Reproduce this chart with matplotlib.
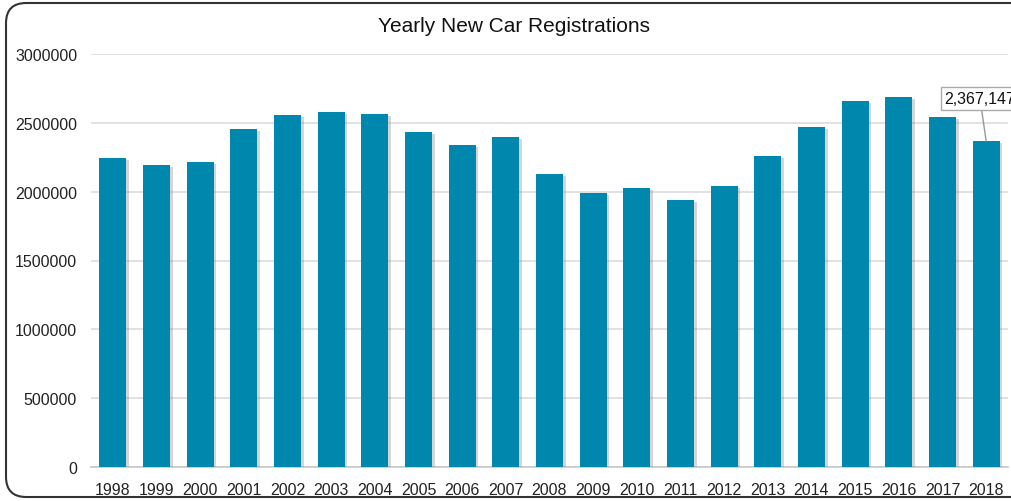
import matplotlib
matplotlib.use("Agg")
import matplotlib.pyplot as plt
import matplotlib.patheffects as pe
from matplotlib.patches import FancyBboxPatch

plt.rcParams['font.family'] = ['Liberation Sans', 'DejaVu Sans']

years = ["1998", "1999", "2000", "2001", "2002", "2003", "2004", "2005", "2006", "2007",
         "2008", "2009", "2010", "2011", "2012", "2013", "2014", "2015", "2016", "2017", "2018"]
registrations = [2242000, 2193000, 2218000, 2454000, 2558000, 2577000, 2562000, 2434000,
                 2340000, 2398000, 2130000, 1990000, 2026000, 1939000, 2042000, 2258000,
                 2472000, 2661000, 2688000, 2543000, 2367147]
yticks = [0, 500000, 1000000, 1500000, 2000000, 2500000, 3000000]
title = "Yearly New Car Registrations"

W, H = 1012, 502
fig = plt.figure(figsize=(W / 100, H / 100), dpi=100)
ax = fig.add_axes([91 / W, 1 - 468 / H, (1008 - 91) / W, (468 - 55) / H])

x = list(range(len(years)))
bars = ax.bar(x, registrations, width=0.62, color="#0087ae", zorder=3)
for b in bars:
    b.set_path_effects([pe.SimplePatchShadow(offset=(2.0, -1.5), shadow_rgbFace="#888888", alpha=0.35),
                        pe.Normal()])

ax.set_xlim(-0.5, len(years) - 0.5)
ax.set_ylim(0, 3000000)
ax.set_yticks(yticks)
ax.set_yticklabels([str(v) for v in yticks], fontsize=11.5, color="#222222")
ax.set_xticks(x)
ax.set_xticklabels(years, fontsize=11.5, color="#222222")
ax.tick_params(axis="both", length=0)
ax.tick_params(axis="y", pad=10)
ax.tick_params(axis="x", pad=11)

ax.yaxis.grid(True, color="#dcdcdc", linewidth=1.2, zorder=0)
ax.set_axisbelow(True)
for s in ["top", "right", "left"]:
    ax.spines[s].set_visible(False)
ax.spines["bottom"].set_color("#c8c8c8")
ax.spines["bottom"].set_linewidth(1.2)

fig.text(513.5 / W, 1 - 26 / H, title, ha="center", va="center", fontsize=15, color="#111111")

last = len(years) - 1
ax.annotate(f"{registrations[last]:,}", xy=(last, registrations[last]),
            xytext=(-30, 25.5), textcoords="offset points", fontsize=11.5, color="#111111",
            ha="left", va="bottom", annotation_clip=False,
            bbox=dict(boxstyle="square,pad=0.25", fc="white", ec="#aaaaaa", lw=1),
            arrowprops=dict(arrowstyle="-", color="#999999", lw=1, shrinkA=0, shrinkB=0))

border = FancyBboxPatch((6 / W, 4 / H), 1.2, (498 - 4) / H,
                        boxstyle="round,pad=0,rounding_size=0.02",
                        transform=fig.transFigure, fill=False, ec="#333333", lw=1.5,
                        mutation_aspect=W / H)
fig.patches.append(border)

fig.savefig("out.png", dpi=100)
